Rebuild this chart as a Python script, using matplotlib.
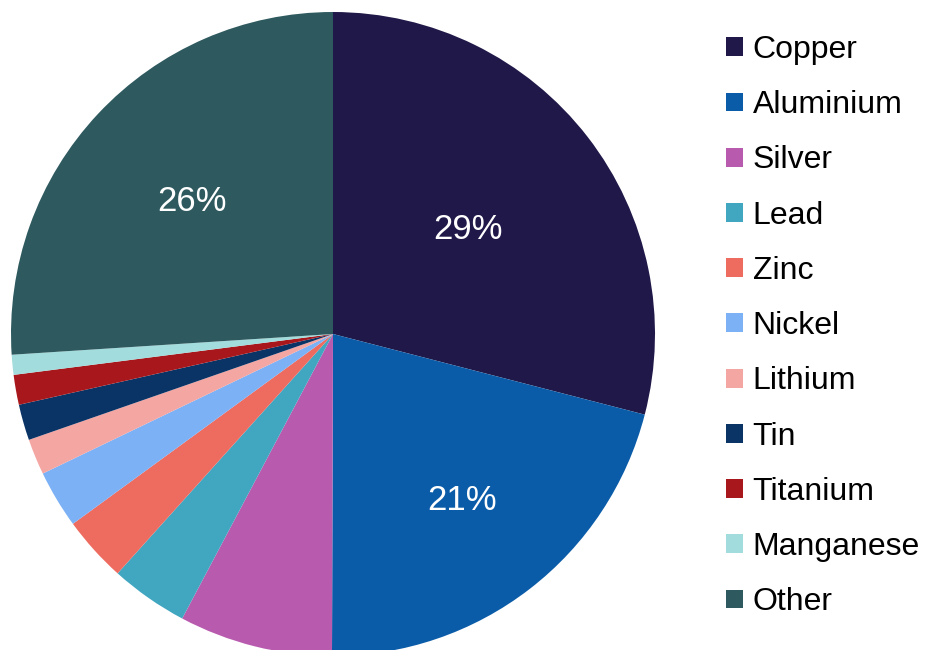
import numpy as np
import matplotlib.pyplot as plt
from matplotlib.patches import Patch

plt.rcParams['font.family'] = ['Liberation Sans', 'DejaVu Sans']

#%% data
metals = ['Copper', 'Aluminium', 'Silver', 'Lead', 'Zinc', 'Nickel',
          'Lithium', 'Tin', 'Titanium', 'Manganese', 'Other']
share = [29, 21, 7.7, 3.9, 3.3, 2.9, 1.8, 1.8, 1.5, 1.0, 26]
colours = ['#201848', '#0b5ca8', '#b85baf', '#41a6c0', '#ee6b60', '#7db1f5',
           '#f4a6a3', '#0a3466', '#a8171b', '#a3dcdc', '#2e5a5f']
shown = {'Copper': 0.53, 'Aluminium': 0.655, 'Other': 0.6}  # label radius

#%% plot
fig = plt.figure(figsize=(9.38, 6.5), dpi=100)
W, H = 938, 650
cx, cy, R = 333, 334, 322
ax = fig.add_axes([(cx - R) / W, (H - cy - R) / H, 2 * R / W, 2 * R / H])
ax.pie(share, colors=colours, startangle=90, counterclock=False, radius=1,
       wedgeprops=dict(linewidth=0))
ax.set_xlim(-1, 1)
ax.set_ylim(-1, 1)
ax.set_aspect('equal')
ax.axis('off')

total = sum(share)
cum = np.cumsum([0] + share)
for i, m in enumerate(metals):
    if m in shown:
        mid = (cum[i] + share[i] / 2) / total * 2 * np.pi
        r = shown[m]
        ax.text(r * np.sin(mid), r * np.cos(mid), '%d%%' % round(share[i]),
                color='white', fontsize=25, ha='center', va='center')

handles = [Patch(facecolor=c, edgecolor='none') for c in colours]
fig.legend(handles, metals, loc='upper left', bbox_to_anchor=(726 / W, 1 - 35 / H),
           frameon=False, fontsize=23, handlelength=0.53, handleheight=0.53,
           handletextpad=0.3, labelspacing=0.79, borderpad=0, borderaxespad=0)

fig.savefig('out.png', dpi=100)
